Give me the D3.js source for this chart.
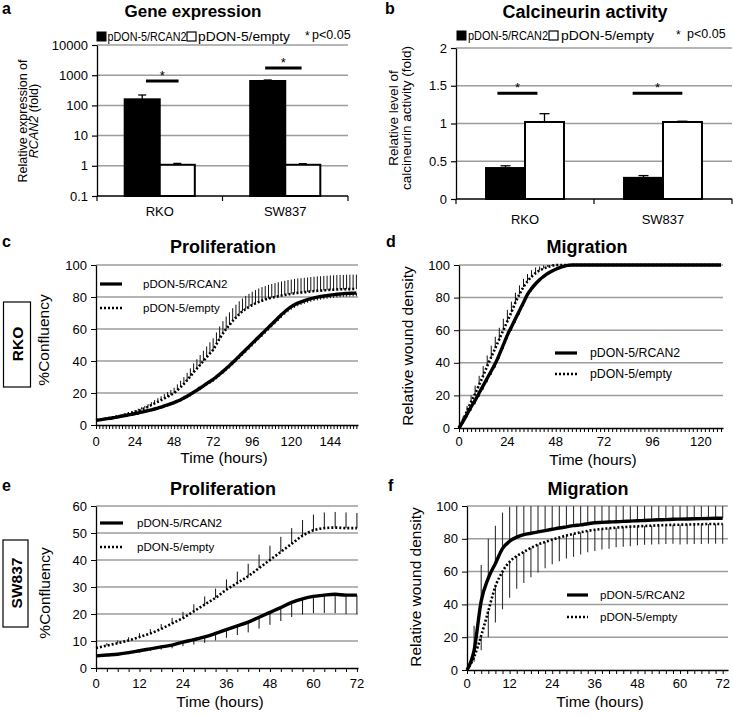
<!DOCTYPE html>
<html><head><meta charset="utf-8">
<script src="https://cdn.jsdelivr.net/npm/d3@7"></script>
<style>body{margin:0;background:#fff}</style>
</head><body>
<svg id="chart" width="733" height="715"></svg>
<script>
// ---------------- DATA ----------------
const seriesNames = ["pDON-5/RCAN2", "pDON-5/empty"];
const cellLines = ["RKO", "SW837"];
const sideLabels = ["RKO", "SW837"];

// a: Gene expression (log scale)
const geneRCAN2 = [159, 643];
const geneRCAN2Err = [62, 50];
const geneEmpty = [1.08, 1.08];
const geneEmptyErr = [0.12, 0.1];
const geneSig = [640, 1730];
const geneTicks = [0.1, 1, 10, 100, 1000, 10000];

// b: Calcineurin activity
const calcRCAN2 = [0.41, 0.28];
const calcRCAN2Err = [0.03, 0.03];
const calcEmpty = [1.02, 1.02];
const calcEmptyErr = [0.11, 0.01];
const calcSig = [1.4, 1.4];
const calcTicks = [0, 0.5, 1, 1.5, 2];

// c: RKO proliferation, every 2 h
const cTimes = d3.range(0, 161, 2);
const cRCAN2 = [3.0,3.2,3.5,3.8,4.1,4.4,4.8,5.1,5.5,5.9,
  6.3,6.7,7.1,7.5,8.0,8.5,9.0,9.5,10.0,10.6,
  11.2,11.9,12.6,13.3,14.0,14.9,15.8,16.9,18.0,19.2,
  20.5,21.8,23.1,24.5,25.9,27.2,28.5,30.1,31.8,33.5,
  35.3,37.1,39.0,41.0,43.0,45.0,47.0,49.0,51.0,53.0,
  55.0,57.0,59.0,61.0,63.0,65.0,67.0,69.0,70.8,72.5,
  74.0,75.2,76.2,77.0,77.7,78.4,79.0,79.5,79.9,80.3,
  80.6,80.9,81.2,81.5,81.7,81.9,82.1,82.2,82.3,82.4,82.5];
const cRCAN2Err = [0.5,0.5,0.5,0.5,0.5,0.6,0.6,0.6,0.6,0.7,0.7,0.7,0.7,0.8,0.8,0.8,0.8,0.9,0.9,0.9,1.0,
  1.0,1.0,1.1,1.1,1.1,1.2,1.2,1.2,1.3,1.3,1.3,1.4,1.4,1.4,1.5,1.5,1.5,1.6,1.6,1.6,
  1.7,1.7,1.7,1.8,1.8,1.8,1.9,1.9,1.9,2.0,2.0,2.0,2.0,2.0,2.0,2.0,2.0,2.0,2.0,2.0,
  2.0,2.0,2.0,2.0,2.0,2.0,2.0,2.0,2.0,2.0,2.0,2.0,2.0,2.0,2.0,2.0,2.0,2.0,2.0,2.0];
const cEmpty = [3.0,3.3,3.6,3.9,4.3,4.7,5.1,5.5,6.0,6.5,
  7.1,7.6,8.2,8.9,9.7,10.5,11.4,12.4,13.5,14.5,
  15.5,16.6,17.7,18.8,20.0,21.8,23.7,25.7,28.0,30.4,
  33.0,35.3,37.6,40.0,42.4,44.7,47.0,50.5,54.0,57.2,
  60.0,62.5,65.0,67.2,69.2,71.0,72.5,73.8,75.0,76.0,
  76.9,77.7,78.4,79.0,79.5,80.0,80.5,80.9,81.3,81.7,
  82.0,82.3,82.6,82.8,83.0,83.2,83.5,83.7,83.9,84.0,
  84.2,84.3,84.5,84.6,84.7,84.8,84.8,84.9,84.9,85.0,85.0];
const cEmptyErr = [0.5,0.5,0.6,0.6,0.7,0.7,0.8,0.8,0.9,0.9,1.0,
  1.1,1.2,1.3,1.4,1.5,1.7,1.9,2.1,2.3,2.5,2.7,2.9,3.1,
  3.3,3.6,3.9,4.2,4.6,5.0,5.4,5.8,6.1,6.4,6.7,7.0,
  7.2,7.4,7.6,7.7,7.8,7.9,8.0,8.0,8.1,8.1,8.2,8.2,8.3,8.3,8.4,
  8.5,8.5,8.6,8.6,8.7,8.7,8.8,8.8,8.9,8.9,9.0,9.0,9.0,9.0,9.0,
  9.0,9.0,9.0,9.0,9.0,9.0,9.0,9.0,9.0,9.0,9.0,9.0,9.0,9.0,9.0];

// d: RKO migration, every 2 h
const dTimes = d3.range(0, 131, 2);
const dRCAN2 = [0,4,8.5,13,17,21.5,26,30.5,35,39.5,
  45,51,57,62,67,72,77,82,85.5,88.5,
  91,93,94.8,96.2,97.4,98.4,99.2,99.8,100,100,
  100,100,100,100,100,100,100,100,100,100,
  100,100,100,100,100,100,100,100,100,100,
  100,100,100,100,100,100,100,100,100,100,
  100,100,100,100,100,100];
const dRCAN2Err = [0,1.5,2,2.5,2.5,2.5,2.5,2.5,2.5,2.5,
  2.5,2.5,2.5,2.5,2.5,2.5,2.2,2,1.8,1.5,
  1.2,1,0.8,0.6,0.5,0.4,0.3,0.2,0,0,
  0,0,0,0,0,0,0,0,0,0,0,0,0,0,0,0,0,0,0,0,
  0,0,0,0,0,0,0,0,0,0,0,0,0,0,0,0];
const dEmpty = [0,5,10.5,16,21,26.5,32,38,43.5,49,
  54.5,60,65.5,71,77,82,86.5,90,92.8,95,
  96.6,97.8,98.8,99.5,100,100,100,100,100,100,
  100,100,100,100,100,100,100,100,100,100,
  100,100,100,100,100,100,100,100,100,100,
  100,100,100,100,100,100,100,100,100,100,
  100,100,100,100,100,100];
const dEmptyErr = [0,2,3,4,5,5.5,6,6.5,7,7,
  7,7,7,6.5,6,5.5,5,4.5,4,3.5,
  2.5,2,1.2,0.5,0,0,0,0,0,0,
  0,0,0,0,0,0,0,0,0,0,0,0,0,0,0,0,0,0,0,0,
  0,0,0,0,0,0,0,0,0,0,0,0,0,0,0,0];

// e: SW837 proliferation, every 3 h
const eTimes = d3.range(0, 73, 3);
const eRCAN2 = [4.5,4.8,5.1,5.7,6.4,7.1,7.8,8.5,9.6,10.5,11.5,12.8,14.2,15.6,17.0,18.8,20.6,22.4,24.3,25.6,26.5,27.0,27.3,27.0,27.0];
const eRCAN2Err = [0.3,0.4,0.5,0.6,0.7,0.8,1.0,1.2,1.5,1.8,2.2,2.6,3.0,3.4,3.8,4.2,4.6,5.0,5.4,5.8,6.2,6.6,7.0,7.0,7.0];
const eEmpty = [7.4,8.3,9.2,10.2,11.5,12.8,14.5,16.5,18.5,21.0,23.5,26.0,29.0,31.5,34.0,37.0,40.0,43.0,46.0,49.0,51.0,51.8,52.0,51.8,51.8];
const eEmptyErr = [0.8,0.9,1.0,1.2,1.4,1.6,1.8,2.0,2.3,2.6,3.0,3.4,3.8,4.2,4.6,5.0,5.3,5.6,5.8,5.8,5.8,5.8,5.8,5.8,5.6];

// f: SW837 migration, every 2 h
const fTimes = d3.range(0, 73, 2);
const fRCAN2 = [0,12,42,56,65,74,78.5,81,82.5,83.4,
  84.2,85,85.8,86.6,87.3,88,88.5,89.2,89.8,90,
  90.2,90.4,90.6,90.8,91,91.2,91.4,91.6,91.7,91.9,
  92,92.1,92.2,92.3,92.4,92.5,92.5];
const fRCAN2Err = [0,15,22,24,23,22,21,20,19,18,17,16,15,15,14,14,13,13,13,12,
  12,12,12,12,12,12,12,12,12,12,12,12,12,12,12,12,12];
const fEmpty = [0,8,21,36,51,60,66,69.5,72,74.5,
  76.5,78,79.5,80.8,82,83,84,84.8,85.5,86,
  86.4,86.8,87.1,87.4,87.6,87.8,88,88.2,88.4,88.5,
  88.6,88.7,88.8,88.9,89,89,89];
const fEmptyErr = [0,3,9,16,22,23,22,20,19,18,
  17,16,15,14.5,14,14,13.5,13,13,12.5,
  12.5,12,12,12,11.5,11.5,11.5,11.5,11.5,11.5,
  12,12,12,12,12,12,12];

const pctTicks = [0, 20, 40, 60, 80, 100];
const eTicksY = [0, 10, 20, 30, 40, 50, 60];
const cXLabels = [0, 24, 48, 72, 96, 120, 144];
const dXLabels = [0, 24, 48, 72, 96, 120];
const efXLabels = [0, 12, 24, 36, 48, 60, 72];

// ---------------- DRAWING ----------------
const FONT = '"Liberation Sans", Arial, Helvetica, sans-serif';
const svg = d3.select("#chart").attr("font-family", FONT);
const GRID = "#9c9c9c";

function txt(g, x, y, s, o = {}) {
  const t = g.append("text").attr("x", x).attr("y", y).text(s)
    .attr("font-size", o.size || 13).attr("fill", "#000")
    .attr("text-anchor", o.anchor || "start");
  if (o.bold) t.attr("font-weight", "bold");
  if (o.len) t.attr("textLength", o.len).attr("lengthAdjust", "spacingAndGlyphs");
  return t;
}
function vtxt(g, x, y, s, size, bold) {
  const t = g.append("text").attr("transform", `translate(${x},${y}) rotate(-90)`)
    .attr("text-anchor", "middle").attr("font-size", size).text(s);
  if (bold) t.attr("font-weight", "bold");
  return t;
}

function barPanel(c) {
  const g = svg.append("g");
  const x = d3.scaleBand().domain(cellLines).range([c.x0, c.x1]);
  const xs = d3.scaleBand().domain(seriesNames).range([0, x.bandwidth()]).paddingOuter(c.pad);
  const y = c.y;
  const yB = y.range()[0];
  g.selectAll("line.grid").data(c.ticks.slice(1)).join("line")
    .attr("x1", c.x0).attr("x2", c.x1).attr("y1", d => y(d)).attr("y2", d => y(d))
    .attr("stroke", GRID).attr("stroke-width", 1.5);
  const ya = g.append("g").attr("transform", `translate(${c.x0},0)`)
    .call(d3.axisLeft(y).tickValues(c.ticks).tickFormat(d => String(d)).tickSize(5).tickPadding(4).tickSizeOuter(0));
  ya.attr("font-family", FONT).attr("font-size", 13);
  ya.selectAll("line").attr("stroke-width", 1.2);
  ya.select(".domain").attr("stroke-width", 1.3);
  g.append("line").attr("x1", c.x0).attr("x2", c.x1).attr("y1", yB).attr("y2", yB)
    .attr("stroke", "#000").attr("stroke-width", 1.3);
  const bounds = [c.x0, ...cellLines.map(d => x(d) + x.bandwidth())];
  g.selectAll("line.xt").data(bounds).join("line")
    .attr("x1", d => d).attr("x2", d => d).attr("y1", yB).attr("y2", yB + 5)
    .attr("stroke", "#000").attr("stroke-width", 1.2);
  g.selectAll("text.cat").data(cellLines).join("text")
    .attr("x", d => x(d) + x.bandwidth() / 2).attr("y", c.catY)
    .attr("text-anchor", "middle").attr("font-size", 13).text(d => d);

  const rows = cellLines.flatMap((cat, i) => [
    { cat, s: seriesNames[0], v: c.v1[i], e: c.e1[i], fill: "#000" },
    { cat, s: seriesNames[1], v: c.v2[i], e: c.e2[i], fill: "#fff" }]);
  g.selectAll("line.err").data(rows).join("line")
    .attr("x1", d => x(d.cat) + xs(d.s) + xs.bandwidth() / 2)
    .attr("x2", d => x(d.cat) + xs(d.s) + xs.bandwidth() / 2)
    .attr("y1", d => y(d.v)).attr("y2", d => y(d.v + d.e))
    .attr("stroke", "#000").attr("stroke-width", 1.3);
  g.selectAll("line.cap").data(rows).join("line")
    .attr("x1", d => x(d.cat) + xs(d.s) + xs.bandwidth() / 2 - c.cap)
    .attr("x2", d => x(d.cat) + xs(d.s) + xs.bandwidth() / 2 + c.cap)
    .attr("y1", d => y(d.v + d.e)).attr("y2", d => y(d.v + d.e))
    .attr("stroke", "#000").attr("stroke-width", 1.3);
  g.selectAll("rect.bar").data(rows).join("rect")
    .attr("x", d => x(d.cat) + xs(d.s)).attr("width", xs.bandwidth())
    .attr("y", d => y(d.v)).attr("height", d => yB - y(d.v))
    .attr("fill", d => d.fill).attr("stroke", "#000").attr("stroke-width", 2);

  // significance
  cellLines.forEach((cat, i) => {
    const xa = x(cat) + c.sigSpan[i][0] * x.bandwidth();
    const xb = x(cat) + c.sigSpan[i][1] * x.bandwidth();
    const yy = y(c.sig[i]);
    g.append("line").attr("x1", xa).attr("x2", xb).attr("y1", yy).attr("y2", yy)
      .attr("stroke", "#000").attr("stroke-width", 3);
    txt(g, (xa + xb) / 2, yy - 1, "*", { size: 13, anchor: "middle" });
  });

  // legend
  const L = c.leg;
  g.append("rect").attr("x", L.sq1).attr("y", L.sqY).attr("width", 9).attr("height", 9)
    .attr("fill", "#000").attr("stroke", "#000").attr("stroke-width", 1);
  txt(g, L.t1, L.ty, seriesNames[0], { size: 12, len: L.len1 });
  g.append("rect").attr("x", L.sq2).attr("y", L.sqY).attr("width", 9).attr("height", 9)
    .attr("fill", "#fff").attr("stroke", "#000").attr("stroke-width", 1.2);
  txt(g, L.t2, L.ty, seriesNames[1], { size: 12, len: L.len2 });
  txt(g, L.star, L.ty - 1, "*", { size: 12 });
  txt(g, L.p, L.ty - 2, "p<0.05", { size: 12.5 });

  // title, letter
  txt(g, c.titleX, c.titleY, c.title, { size: c.titleSize, bold: true, anchor: "middle" });
  txt(g, c.letterX, 14, c.letter, { size: 16, bold: true });
  return g;
}

function linePanel(c) {
  const g = svg.append("g");
  const x = d3.scaleLinear().domain(c.xDomain).range([c.x0, c.x1]);
  const y = d3.scaleLinear().domain(c.yDomain).range([c.yB, c.yT]);
  g.selectAll("line.grid").data(c.yTicks.filter(d => d > c.yDomain[0])).join("line")
    .attr("x1", c.x0).attr("x2", c.x1).attr("y1", d => y(d)).attr("y2", d => y(d))
    .attr("stroke", GRID).attr("stroke-width", 1.5);
  const ya = g.append("g").attr("transform", `translate(${c.x0},0)`)
    .call(d3.axisLeft(y).tickValues(c.yTicks).tickSize(5).tickPadding(4).tickSizeOuter(0));
  ya.attr("font-family", FONT).attr("font-size", 13);
  ya.select(".domain").attr("stroke-width", 1.3);
  const xa = g.append("g").attr("transform", `translate(0,${c.yB})`)
    .call(d3.axisBottom(x).tickValues(c.times).tickSize(4).tickFormat(() => "").tickSizeOuter(0));
  xa.select(".domain").attr("stroke-width", 1.3);
  xa.selectAll(".tick line").attr("stroke-width", 1);
  g.selectAll("text.xl").data(c.xLabels).join("text")
    .attr("x", d => x(d)).attr("y", c.labelY).attr("text-anchor", "middle")
    .attr("font-size", 13).text(d => d);

  const clipId = "clip" + c.letter;
  g.append("clipPath").attr("id", clipId).append("rect")
    .attr("x", c.x0).attr("y", c.yT).attr("width", c.x1 - c.x0).attr("height", c.yB - c.yT);
  const eb = g.append("g").attr("clip-path", `url(#${clipId})`);
  c.series.forEach(s => {
    eb.selectAll(null).data(c.times).join("line")
      .attr("x1", (t) => x(t)).attr("x2", (t) => x(t))
      .attr("y1", (t, i) => y(s.v[i]))
      .attr("y2", (t, i) => y(s.v[i] + s.dir * s.e[i]))
      .attr("stroke", c.errColor || "#111").attr("stroke-width", c.errWidth || 1);
  });
  const line = (v) => d3.line().x((t) => x(t)).y((t, i) => y(v[i])).curve(d3.curveMonotoneX)(c.times);
  g.append("path").attr("d", line(c.series[1].v)).attr("fill", "none")
    .attr("stroke", "#000").attr("stroke-width", 2.6).attr("stroke-dasharray", "2,2");
  g.append("path").attr("d", line(c.series[0].v)).attr("fill", "none")
    .attr("stroke", "#000").attr("stroke-width", 3.4).attr("stroke-linejoin", "round");

  // legend
  const L = c.leg;
  g.append("line").attr("x1", L.x1).attr("x2", L.x2).attr("y1", L.y1).attr("y2", L.y1)
    .attr("stroke", "#000").attr("stroke-width", 3.2);
  g.append("line").attr("x1", L.x1).attr("x2", L.x2).attr("y1", L.y2).attr("y2", L.y2)
    .attr("stroke", "#000").attr("stroke-width", 2.6).attr("stroke-dasharray", "2,2");
  txt(g, L.tx, L.y1 + 4, seriesNames[0], { size: L.size });
  txt(g, L.tx, L.y2 + 4, seriesNames[1], { size: L.size });

  txt(g, c.titleX, c.titleY, c.title, { size: 18, bold: true, anchor: "middle" });
  txt(g, c.letterX, c.letterY, c.letter, { size: 16, bold: true });
  txt(g, c.xTitleX, c.xTitleY, "Time (hours)", { size: 15.5, anchor: "middle" });
  vtxt(g, c.yTitleX, c.yTitleY, c.yTitle, 15.5);
  return g;
}

// ---- panel a ----
const ga = barPanel({
  x0: 97, x1: 348, pad: 0.79, cap: 4,
  y: d3.scaleLog().domain([0.1, 10000]).range([196, 45]),
  ticks: geneTicks, v1: geneRCAN2, e1: geneRCAN2Err, v2: geneEmpty, e2: geneEmptyErr,
  sig: geneSig, sigSpan: [[0.39, 0.65], [0.34, 0.63]], catY: 216,
  leg: { sq1: 97, sq2: 187, sqY: 32, t1: 107.5, t2: 198, len1: 79, len2: 92, ty: 41, star: 305, p: 312 },
  title: "Gene expression", titleX: 193, titleY: 17, titleSize: 17, letter: "a", letterX: 2
});
{
  ga.append("text").attr("transform", "translate(27,121) rotate(-90)")
    .attr("text-anchor", "middle").attr("font-size", 12.5).text("Relative expression of");
  const t2 = ga.append("text").attr("transform", "translate(37.5,121) rotate(-90)")
    .attr("text-anchor", "middle").attr("font-size", 12.5);
  t2.append("tspan").attr("font-style", "italic").text("RCAN2");
  t2.append("tspan").text(" (fold)");
}

// ---- panel b ----
const gb = barPanel({
  x0: 456, x1: 732, pad: 0.77, cap: 5,
  y: d3.scaleLinear().domain([0, 2]).range([199, 48]),
  ticks: calcTicks, v1: calcRCAN2, e1: calcRCAN2Err, v2: calcEmpty, e2: calcEmptyErr,
  sig: calcSig, sigSpan: [[0.30, 0.59], [0.28, 0.64]], catY: 224,
  leg: { sq1: 457, sq2: 549, sqY: 31, t1: 468, t2: 561, len1: 80, len2: 93, ty: 40, star: 676, p: 687 },
  title: "Calcineurin activity", titleX: 585, titleY: 18, titleSize: 18, letter: "b", letterX: 385
});
vtxt(gb, 398, 118, "Relative level of", 13.5);
vtxt(gb, 411, 118, "calcineurin activity (fold)", 13.5);

// ---- panel c ----
linePanel({
  letter: "c", letterX: 2, letterY: 247,
  x0: 96, x1: 358, yT: 265, yB: 425, xDomain: [0, 161], yDomain: [0, 100],
  yTicks: pctTicks, times: cTimes, xLabels: cXLabels, labelY: 446,
  series: [{ v: cRCAN2, e: cRCAN2Err, dir: -1 }, { v: cEmpty, e: cEmptyErr, dir: 1 }],
  leg: { x1: 100, x2: 122, y1: 284, y2: 308, tx: 143, size: 11.5 },
  title: "Proliferation", titleX: 223, titleY: 253,
  xTitleX: 224, xTitleY: 463, yTitle: "%Confluency", yTitleX: 49, yTitleY: 340
});

// ---- panel d ----
linePanel({
  letter: "d", letterX: 386, letterY: 247,
  x0: 459, x1: 723, yT: 265, yB: 428, xDomain: [0, 131], yDomain: [0, 100],
  yTicks: pctTicks, times: dTimes, xLabels: dXLabels, labelY: 446,
  series: [{ v: dRCAN2, e: dRCAN2Err, dir: -1 }, { v: dEmpty, e: dEmptyErr, dir: 1 }],
  leg: { x1: 555, x2: 577, y1: 353, y2: 374, tx: 590, size: 12.3 },
  title: "Migration", titleX: 587, titleY: 253,
  xTitleX: 593, xTitleY: 465, yTitle: "Relative wound density", yTitleX: 413, yTitleY: 346
});

// ---- panel e ----
linePanel({
  letter: "e", letterX: 2, letterY: 491,
  x0: 96, x1: 358, yT: 506, yB: 668, xDomain: [0, 72.3], yDomain: [0, 60],
  yTicks: eTicksY, times: eTimes, xLabels: efXLabels, labelY: 688,
  series: [{ v: eRCAN2, e: eRCAN2Err, dir: -1 }, { v: eEmpty, e: eEmptyErr, dir: 1 }],
  leg: { x1: 100, x2: 123, y1: 523, y2: 547, tx: 137, size: 11.6 },
  title: "Proliferation", titleX: 223, titleY: 495,
  xTitleX: 220, xTitleY: 707, yTitle: "%Confluency", yTitleX: 50, yTitleY: 593
});

// ---- panel f ----
linePanel({
  letter: "f", letterX: 388, letterY: 491,
  x0: 467, x1: 728, yT: 506, yB: 670, xDomain: [0, 73.5], yDomain: [0, 100],
  yTicks: pctTicks, times: fTimes, xLabels: efXLabels, labelY: 688,
  series: [{ v: fRCAN2, e: fRCAN2Err, dir: 1 }, { v: fEmpty, e: fEmptyErr, dir: -1 }],
  leg: { x1: 567, x2: 588, y1: 595, y2: 617, tx: 600, size: 11.6 },
  errColor: "#333", errWidth: 1.1,
  title: "Migration", titleX: 588, titleY: 495,
  xTitleX: 600, xTitleY: 707, yTitle: "Relative wound density", yTitleX: 421, yTitleY: 587
});

// side boxes
const side = svg.append("g");
[[3.5, 302, 27, 85, 344, 22.5], [3, 540, 25, 87, 583, 21.5]].forEach((b, i) => {
  side.append("rect").attr("x", b[0]).attr("y", b[1]).attr("width", b[2]).attr("height", b[3])
    .attr("fill", "#fff").attr("stroke", "#000").attr("stroke-width", 1.2);
  vtxt(side, b[5], b[4], sideLabels[i], 15.5, true);
});
</script>
</body></html>
